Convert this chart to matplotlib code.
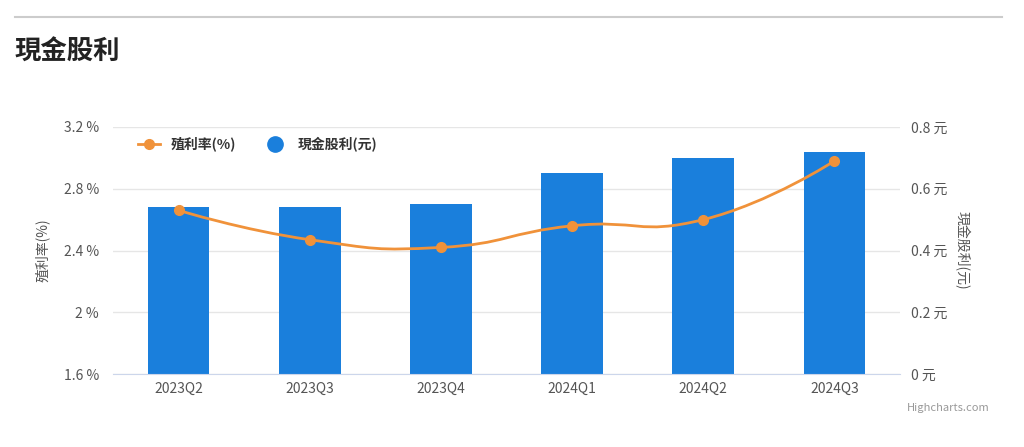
import matplotlib
matplotlib.use("Agg")
import matplotlib.pyplot as plt
from matplotlib.path import Path
from matplotlib.patches import PathPatch
from matplotlib.lines import Line2D

plt.rcParams["font.family"] = ["Noto Sans CJK TC", "DejaVu Sans"]

quarters = ["2023Q2", "2023Q3", "2023Q4", "2024Q1", "2024Q2", "2024Q3"]
dividend = [0.54, 0.54, 0.55, 0.65, 0.70, 0.72]
yield_pct = [2.66, 2.47, 2.42, 2.56, 2.60, 2.98]
left_ticks = [1.6, 2.0, 2.4, 2.8, 3.2]
right_ticks = [0, 0.2, 0.4, 0.6, 0.8]

BLUE = "#1a7fdc"
ORANGE = "#f0923a"
W, H = 1024, 447

fig = plt.figure(figsize=(W / 100, H / 100), dpi=100)
ax2 = fig.add_axes([113 / W, 1 - 374 / H, (900 - 113) / W, (374 - 127) / H])
ax = ax2.twinx()

x = list(range(len(quarters)))
ax2.bar(x, dividend, width=0.47, color=BLUE, zorder=2)
ax2.set_ylim(0, 0.8)
ax2.set_xlim(-0.5, len(quarters) - 0.5)
ax2.set_yticks(right_ticks)
ax2.set_yticklabels([f"{t:g} 元" for t in right_ticks], color="#555555", fontsize=10)
ax2.yaxis.tick_right()
ax2.yaxis.set_label_position("right")
ax2.set_ylabel("現金股利(元)", color="#555555", fontsize=10, rotation=270, labelpad=16)
ax2.set_xticks(x)
ax2.set_xticklabels(quarters, color="#555555", fontsize=10)
ax2.grid(axis="y", color="#e6e6e6", lw=1, zorder=0)
ax2.tick_params(length=0, pad=8)
ax2.tick_params(axis="x", pad=6)
for s in ax2.spines.values():
    s.set_visible(False)
ax2.spines["bottom"].set_visible(True)
ax2.spines["bottom"].set_color("#ccd6eb")

# spline through the yield points (Catmull-Rom style bezier, like Highcharts)
ax.set_ylim(1.6, 3.2)
pts = list(zip(x, yield_pct))
verts, codes = [pts[0]], [Path.MOVETO]
sm = 1.5
for i in range(len(pts) - 1):
    p0 = pts[i - 1] if i > 0 else pts[i]
    p1, p2 = pts[i], pts[i + 1]
    p3 = pts[i + 2] if i + 2 < len(pts) else p2
    c1 = (p1[0] + (p2[0] - p0[0]) / (2 * sm + 1), p1[1] + (p2[1] - p0[1]) / (2 * sm + 1)) if i > 0 else p1
    c2 = (p2[0] - (p3[0] - p1[0]) / (2 * sm + 1), p2[1] - (p3[1] - p1[1]) / (2 * sm + 1)) if i + 2 < len(pts) else p2
    verts += [c1, c2, p2]
    codes += [Path.CURVE4] * 3
ax.add_patch(PathPatch(Path(verts, codes), fill=False, edgecolor=ORANGE, lw=2, zorder=3))
ax.plot(x, yield_pct, "o", color=ORANGE, ms=7, zorder=4)
ax.yaxis.tick_left()
ax.yaxis.set_label_position("left")
ax.set_yticks(left_ticks)
ax.set_yticklabels([f"{t:g} %" for t in left_ticks], color="#555555", fontsize=10)
ax.set_ylabel("殖利率(%)", color="#555555", fontsize=10, labelpad=10)
ax.tick_params(length=0, pad=10)
for s in ax.spines.values():
    s.set_visible(False)

handles = [
    Line2D([], [], color=ORANGE, lw=2, marker="o", ms=7),
    Line2D([], [], color=BLUE, lw=0, marker="o", ms=11),
]
fig.legend(handles, ["殖利率(%)", "現金股利(元)"], loc="center left",
           bbox_to_anchor=(125 / W, 1 - 144 / H), ncol=2, frameon=False,
           prop={"weight": "bold", "size": 10}, handlelength=1.6, columnspacing=2.0,
           labelcolor="#333333")

fig.add_artist(Line2D([15 / W, 1002 / W], [1 - 17 / H] * 2, color="#cccccc", lw=1.5))
fig.text(15 / W, 1 - 52 / H, "現金股利", fontsize=19, weight="bold", color="#222222", va="center")
fig.text(990 / W, 1 - 408 / H, "Highcharts.com", fontsize=8, color="#999999", ha="right", va="center")

fig.savefig("out.png", dpi=100)
